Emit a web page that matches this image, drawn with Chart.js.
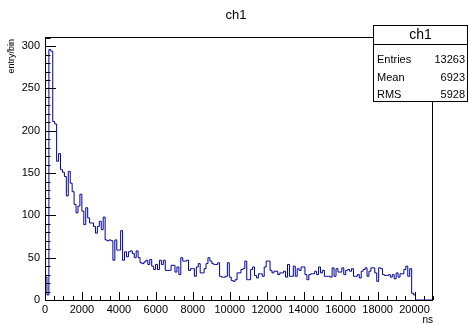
<!DOCTYPE html>
<html>
<head>
<meta charset="utf-8">
<script src="https://cdn.jsdelivr.net/npm/chart.js@4.4.0/dist/chart.umd.min.js"></script>
<style>
  body { margin: 0; background: #fff; }
  canvas { display: block; }
</style>
</head>
<body>
<canvas id="myChart" width="468" height="324"></canvas>
<script>
// histogram "ch1": 200 bins of 105 ns from 0 to 21000 ns
const binWidth = 105;
const counts = [
  27, 6, 296, 294, 211, 208, 164, 173, 154, 151,
  146, 123, 152, 138, 128, 113, 103, 111, 125, 105,
  89, 109, 97, 91, 91, 87, 79, 87, 93, 83,
  98, 71, 70, 71, 70, 47, 71, 59, 59, 82,
  47, 57, 51, 57, 58, 55, 50, 58, 50, 44,
  43, 45, 47, 42, 48, 40, 36, 42, 36, 47,
  42, 47, 35, 35, 35, 41, 41, 33, 39, 30,
  50, 46, 46, 47, 35, 37, 37, 28, 39, 43,
  32, 32, 37, 43, 50, 46, 43, 42, 42, 44,
  28, 27, 27, 28, 44, 27, 23, 22, 24, 32,
  32, 36, 37, 46, 24, 24, 36, 39, 29, 26,
  31, 31, 28, 39, 46, 46, 35, 32, 34, 34,
  30, 32, 32, 34, 27, 42, 28, 28, 40, 28,
  37, 35, 39, 39, 30, 24, 30, 31, 31, 34,
  30, 39, 32, 35, 28, 28, 28, 27, 38, 28,
  37, 33, 33, 38, 30, 35, 36, 34, 37, 28,
  28, 30, 26, 34, 36, 38, 28, 34, 38, 38,
  32, 22, 38, 37, 30, 29, 29, 30, 27, 30,
  25, 32, 27, 31, 31, 36, 40, 28, 37, 8,
  6, 0, 0, 0, 0, 0, 0, 0, 0, 0
];
const xTicks = [0, 2000, 4000, 6000, 8000, 10000, 12000, 14000, 16000, 18000, 20000];
const yTicks = [0, 50, 100, 150, 200, 250, 300];
const statNames = ['Entries', 'Mean', 'RMS'];
const statValues = ['13263', '6923', '5928'];

const xMax = counts.length * binWidth;
const yMax = 310.8;
const fontFam = "'Liberation Sans', Arial, sans-serif";

// step points at the left edge of every bin, plus the closing edge
let points = counts.map((v, i) => ({x: i * binWidth, y: v}));
points.push({x: xMax, y: counts[counts.length - 1]});

// ROOT style frame, inner ticks, titles and stats box
const rootDecor = {
  id: 'rootDecor',
  afterDraw(chart) {
    const ctx = chart.ctx;
    const a = chart.chartArea;
    const xs = chart.scales.x, ys = chart.scales.y;
    ctx.save();
    ctx.strokeStyle = '#000';
    ctx.lineWidth = 1;

    ctx.beginPath();
    for (let v = 0; v <= xMax; v += 500) {
      const px = Math.round(xs.getPixelForValue(v)) + 0.5;
      const len = v % 2000 === 0 ? 8 : 4;
      ctx.moveTo(px, a.bottom);
      ctx.lineTo(px, a.bottom - len);
    }
    for (let v = 0; v <= yMax; v += 10) {
      const py = Math.round(ys.getPixelForValue(v)) + 0.5;
      const len = v % 50 === 0 ? 11 : 5.5;
      ctx.moveTo(a.left, py);
      ctx.lineTo(a.left + len, py);
    }
    ctx.stroke();

    ctx.strokeRect(a.left + 0.5, a.top + 0.5, a.right - a.left - 1, a.bottom - a.top);

    ctx.fillStyle = '#000';
    ctx.textBaseline = 'middle';
    ctx.font = '13px ' + fontFam;
    ctx.textAlign = 'center';
    ctx.fillText('ch1', 236, 15);

    ctx.font = '10px ' + fontFam;
    ctx.textAlign = 'right';
    ctx.fillText('ns', a.right, 320);

    ctx.save();
    ctx.translate(12, a.top + 2);
    ctx.rotate(-Math.PI / 2);
    ctx.font = '9px ' + fontFam;
    ctx.textAlign = 'right';
    ctx.fillText('entry/bin', 0, 0);
    ctx.restore();

    // stats box
    const bx = 373.5, by = 25.5, bw = 94, bh = 76;
    ctx.fillStyle = '#fff';
    ctx.fillRect(bx, by, bw, bh);
    ctx.strokeRect(bx, by, bw, bh);
    ctx.beginPath();
    ctx.moveTo(bx, 44.5);
    ctx.lineTo(bx + bw, 44.5);
    ctx.stroke();
    ctx.fillStyle = '#000';
    ctx.font = '14px ' + fontFam;
    ctx.textAlign = 'center';
    ctx.fillText('ch1', bx + bw / 2, 35);
    ctx.font = '11px ' + fontFam;
    statNames.forEach((n, i) => {
      const ty = 60 + i * 17.5;
      ctx.textAlign = 'left';
      ctx.fillText(n, 377, ty);
      ctx.textAlign = 'right';
      ctx.fillText(statValues[i], 465, ty);
    });
    ctx.restore();
  }
};

new Chart(document.getElementById('myChart'), {
  type: 'line',
  data: {
    datasets: [{
      data: points,
      stepped: true,
      borderColor: '#000099',
      borderWidth: 1,
      pointRadius: 0,
      fill: false
    }]
  },
  options: {
    responsive: false,
    animation: false,
    layout: {padding: {top: 37, right: 35, bottom: 0, left: 0}},
    plugins: {legend: {display: false}, tooltip: {enabled: false}},
    scales: {
      x: {
        type: 'linear', min: 0, max: xMax,
        grid: {display: false, drawTicks: false},
        border: {display: false},
        ticks: {
          padding: 3, color: '#000', maxRotation: 0, autoSkip: false,
          font: {family: fontFam, size: 11},
          callback: v => String(v)
        },
        afterBuildTicks: s => { s.ticks = xTicks.map(v => ({value: v})); },
        afterFit: s => { s.height = 24; }
      },
      y: {
        type: 'linear', min: 0, max: yMax,
        grid: {display: false, drawTicks: false},
        border: {display: false},
        ticks: {
          padding: 5, color: '#000',
          font: {family: fontFam, size: 11},
          callback: v => String(v)
        },
        afterBuildTicks: s => { s.ticks = yTicks.map(v => ({value: v})); },
        afterFit: s => { s.width = 45; }
      }
    }
  },
  plugins: [rootDecor]
});
</script>
</body>
</html>
